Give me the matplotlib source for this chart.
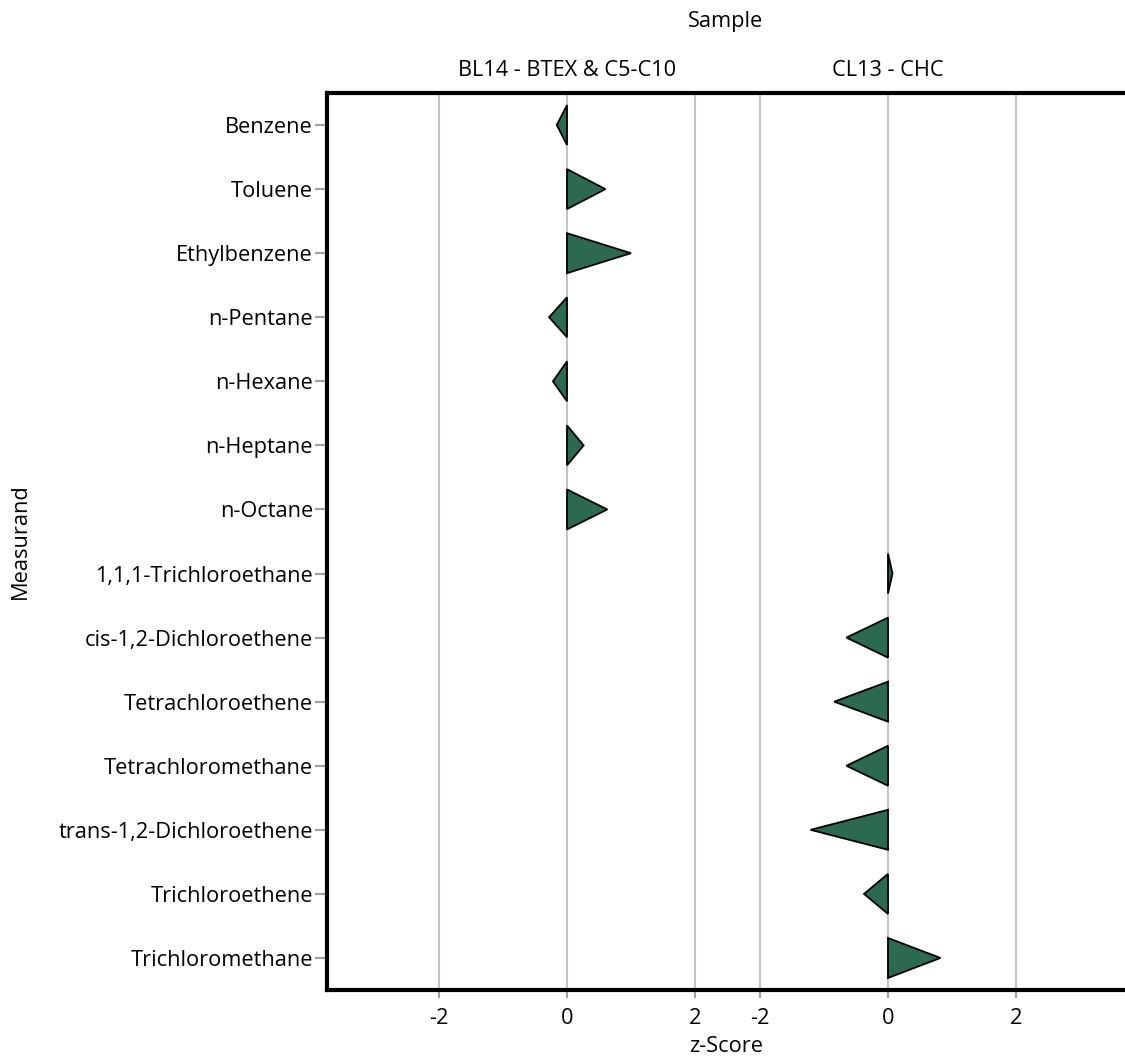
import matplotlib
matplotlib.use("Agg")
import matplotlib.pyplot as plt
from matplotlib.patches import Polygon

plt.rcParams['font.family'] = ['Open Sans', 'DejaVu Sans']

measurands = ["Benzene", "Toluene", "Ethylbenzene", "n-Pentane", "n-Hexane",
              "n-Heptane", "n-Octane", "1,1,1-Trichloroethane",
              "cis-1,2-Dichloroethene", "Tetrachloroethene", "Tetrachloromethane",
              "trans-1,2-Dichloroethene", "Trichloroethene", "Trichloromethane"]
samples = ["BL14 - BTEX & C5-C10", "CL13 - CHC"]
# sample index of each measurand
sample_of = [0, 0, 0, 0, 0, 0, 0, 1, 1, 1, 1, 1, 1, 1]
zscores = [-0.16, 0.60, 1.00, -0.28, -0.22, 0.26, 0.63,
           0.07, -0.65, -0.84, -0.65, -1.21, -0.375, 0.82]
xticks = [-2, 0, 2]

W, H = 1125, 1061
fig = plt.figure(figsize=(W / 100, H / 100), dpi=100)

def rect(x0, y0, x1, y1):
    return [x0 / W, 1 - y1 / H, (x1 - x0) / W, (y1 - y0) / H]

top, bottom = 93, 990
facet_lefts = [327, 648]
facet_w = 480
xlim = (-3.75, 3.75)
ylim = (len(measurands) - 0.5, -0.5)
half = 0.312
fill_color = '#2b6a50'
grid_color = '#c4c4c4'
fs = 15.7

axes = []
for i, left in enumerate(facet_lefts):
    ax = fig.add_axes(rect(left, top, left + facet_w, bottom))
    ax.patch.set_alpha(0)
    ax.set_xlim(*xlim)
    ax.set_ylim(*ylim)
    for s in ax.spines.values():
        s.set_visible(False)
    ax.set_xticks(xticks)
    ax.set_xticklabels([str(t) for t in xticks], fontsize=fs)
    ax.tick_params(axis='x', length=6, width=1.5, color='#a0a0a0', pad=7)
    for t in xticks:
        ax.axvline(t, color=grid_color, lw=1.5, zorder=0)
    if i == 0:
        ax.set_yticks(range(len(measurands)))
        ax.set_yticklabels(measurands, fontsize=fs)
        ax.tick_params(axis='y', length=9, width=1.5, color='#a0a0a0', pad=1)
    else:
        ax.set_yticks([])
    ax.text(0, 1.0 + 22 / (bottom - top), samples[i], transform=ax.get_xaxis_transform(),
            ha='center', va='center', fontsize=fs)
    axes.append(ax)

for j, (name, s, z) in enumerate(zip(measurands, sample_of, zscores)):
    ax = axes[s]
    tri = Polygon([(0, j - half), (z, j), (0, j + half)], closed=True,
                  facecolor=fill_color, edgecolor='black', lw=1.3, zorder=3)
    ax.add_patch(tri)

# frame
frame = fig.add_axes(rect(327, top, 1128, bottom))
frame.patch.set_alpha(0)
frame.set_xticks([])
frame.set_yticks([])
for s in frame.spines.values():
    s.set_linewidth(3)
    s.set_color('black')

cx = (327 + 1125) / 2 / W
fig.text(cx, 1 - 21 / H, "Sample", ha='center', va='center', fontsize=fs)
fig.text(cx, 1 - 1047 / H, "z-Score", ha='center', va='center', fontsize=fs)
fig.text(20 / W, 1 - 541 / H, "Measurand", ha='center', va='center',
         rotation=90, fontsize=fs)

fig.savefig("out.png", dpi=100)
